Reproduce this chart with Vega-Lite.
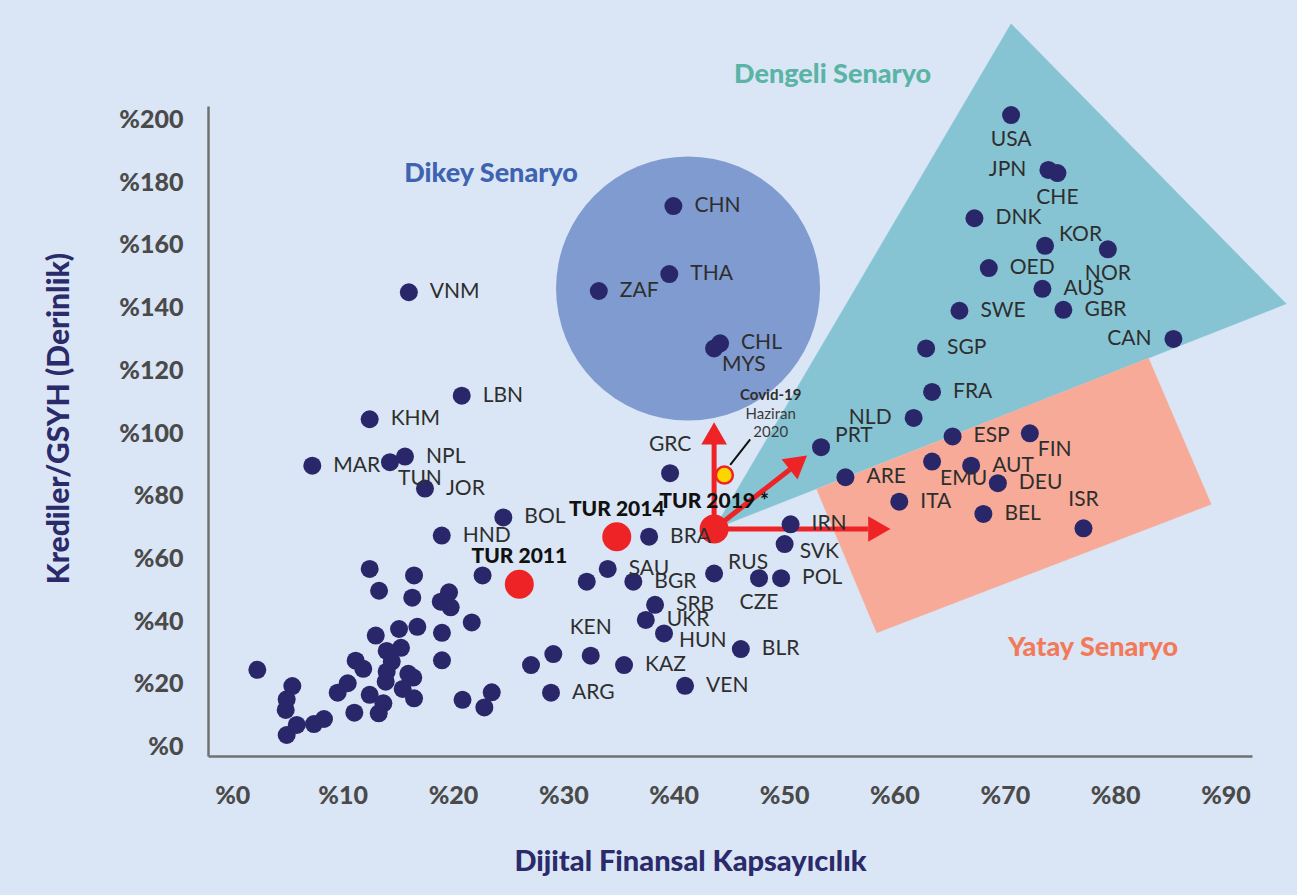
{
  "$schema": "https://vega.github.io/schema/vega-lite/v6.json",
  "width": 1044,
  "height": 650,
  "autosize": {"type": "none"},
  "padding": {"left": 208, "top": 106, "right": 45, "bottom": 139},
  "background": "#dae6f5",
  "config": {"view": {"stroke": null}, "font": "Lato"},
  "datasets": {
    "shapes": [
      {"shape": "tri", "ord": 1, "x": 43.66, "y": 69.4},
      {"shape": "tri", "ord": 2, "x": 70.57, "y": 230.5},
      {"shape": "tri", "ord": 3, "x": 95.5, "y": 141.2},
      {"shape": "rect", "ord": 1, "x": 52.96, "y": 82.07},
      {"shape": "rect", "ord": 2, "x": 83.02, "y": 123.86},
      {"shape": "rect", "ord": 3, "x": 88.7, "y": 77.29},
      {"shape": "rect", "ord": 4, "x": 58.4, "y": 36.33}
    ],
    "circle": [{"x": 41.3, "y": 146.1}],
    "arrows": [
      {"x": 43.66, "y": 69.4, "x2": 43.66, "y2": 96.5},
      {"x": 43.66, "y": 69.4, "x2": 57.6, "y2": 69.4},
      {"x": 43.66, "y": 69.4, "x2": 50.53, "y2": 88.4}
    ],
    "heads": [
      {"x": 43.66, "y": 99.9, "angle": 0},
      {"x": 58.63, "y": 69.4, "angle": 90},
      {"x": 51.29, "y": 90.62, "angle": 51.7}
    ],
    "leader": [{"x": 45.12, "y": 89.86, "x2": 46.93, "y2": 98.0}],
    "covid": [{"x": 44.59, "y": 86.6}],
    "covidText": [
      {"text": "Covid-19", "x": 48.79, "y": 112.2},
      {"text": "Haziran", "x": 48.79, "y": 106.1},
      {"text": "2020", "x": 48.79, "y": 100.4}
    ],
    "tur": [
      {"name": "TUR 2011", "x": 26.01, "y": 51.8},
      {"name": "TUR 2014", "x": 34.84, "y": 66.9},
      {"name": "TUR 2019 *", "x": 43.66, "y": 69.4}
    ],
    "scen": [
      {"text": "Dengeli Senaryo", "x": 54.4, "y": 214.3, "kind": "Dengeli"},
      {"text": "Dikey Senaryo", "x": 23.45, "y": 182.6, "kind": "Dikey"},
      {"text": "Yatay Senaryo", "x": 77.99, "y": 31.45, "kind": "Yatay"}
    ],
    "countries": [
      {"name": "VNM", "x": 16.0, "y": 144.9, "pos": "r"},
      {"name": "LBN", "x": 20.79, "y": 111.9, "pos": "r"},
      {"name": "KHM", "x": 12.45, "y": 104.4, "pos": "r"},
      {"name": "MAR", "x": 7.25, "y": 89.6, "pos": "r"},
      {"name": "TUN", "x": 14.29, "y": 90.7, "pos": "br"},
      {"name": "NPL", "x": 15.65, "y": 92.5, "pos": "r"},
      {"name": "JOR", "x": 17.46, "y": 82.3, "pos": "r"},
      {"name": "BOL", "x": 24.56, "y": 73.1, "pos": "r"},
      {"name": "HND", "x": 18.98, "y": 67.3, "pos": "r"},
      {"name": "GRC", "x": 39.67, "y": 87.2, "pos": "a"},
      {"name": "BRA", "x": 37.77, "y": 66.95, "pos": "r"},
      {"name": "SAU", "x": 34.02, "y": 56.65, "pos": "r"},
      {"name": "BGR", "x": 36.34, "y": 52.6, "pos": "r"},
      {"name": "RUS", "x": 43.66, "y": 55.2, "pos": "ar"},
      {"name": "CZE", "x": 47.73, "y": 53.7, "pos": "b"},
      {"name": "POL", "x": 49.73, "y": 53.7, "pos": "r"},
      {"name": "SRB", "x": 38.31, "y": 45.2, "pos": "r"},
      {"name": "UKR", "x": 37.47, "y": 40.4, "pos": "r"},
      {"name": "HUN", "x": 39.12, "y": 36.1, "pos": "rb"},
      {"name": "KEN", "x": 32.48, "y": 29.0, "pos": "a"},
      {"name": "KAZ", "x": 35.5, "y": 26.0, "pos": "r"},
      {"name": "ARG", "x": 28.88, "y": 17.2, "pos": "r"},
      {"name": "VEN", "x": 41.03, "y": 19.4, "pos": "r"},
      {"name": "BLR", "x": 46.08, "y": 31.1, "pos": "r"},
      {"name": "IRN", "x": 50.59, "y": 70.9, "pos": "r"},
      {"name": "SVK", "x": 50.05, "y": 64.6, "pos": "rb"},
      {"name": "CHN", "x": 39.97, "y": 172.4, "pos": "r"},
      {"name": "THA", "x": 39.6, "y": 150.7, "pos": "r"},
      {"name": "ZAF", "x": 33.21, "y": 145.3, "pos": "r"},
      {"name": "CHL", "x": 44.2, "y": 128.6, "pos": "r"},
      {"name": "MYS", "x": 43.66, "y": 127.0, "pos": "br"},
      {"name": "USA", "x": 70.57, "y": 201.4, "pos": "b"},
      {"name": "JPN", "x": 73.95, "y": 183.9, "pos": "l"},
      {"name": "CHE", "x": 74.77, "y": 182.9, "pos": "b"},
      {"name": "DNK", "x": 67.25, "y": 168.5, "pos": "r"},
      {"name": "KOR", "x": 73.65, "y": 159.7, "pos": "ar"},
      {"name": "NOR", "x": 79.34, "y": 158.6, "pos": "b"},
      {"name": "OED", "x": 68.55, "y": 152.6, "pos": "r"},
      {"name": "AUS", "x": 73.41, "y": 146.0, "pos": "r"},
      {"name": "SWE", "x": 65.89, "y": 139.0, "pos": "r"},
      {"name": "GBR", "x": 75.31, "y": 139.3, "pos": "r"},
      {"name": "CAN", "x": 85.28, "y": 130.0, "pos": "l"},
      {"name": "SGP", "x": 62.87, "y": 127.0, "pos": "r"},
      {"name": "FRA", "x": 63.41, "y": 113.1, "pos": "r"},
      {"name": "NLD", "x": 61.74, "y": 104.8, "pos": "l"},
      {"name": "PRT", "x": 53.35, "y": 95.5, "pos": "ar"},
      {"name": "ESP", "x": 65.27, "y": 98.9, "pos": "r"},
      {"name": "FIN", "x": 72.27, "y": 99.9, "pos": "br"},
      {"name": "EMU", "x": 63.41, "y": 90.9, "pos": "br"},
      {"name": "AUT", "x": 66.95, "y": 89.6, "pos": "r"},
      {"name": "DEU", "x": 69.37, "y": 84.0, "pos": "r"},
      {"name": "ARE", "x": 55.56, "y": 85.9, "pos": "r"},
      {"name": "ITA", "x": 60.44, "y": 78.1, "pos": "r"},
      {"name": "BEL", "x": 68.06, "y": 74.2, "pos": "r"},
      {"name": "ISR", "x": 77.13, "y": 69.6, "pos": "a"},
      {"name": "", "x": 29.09, "y": 29.5, "pos": "n"},
      {"name": "", "x": 27.07, "y": 26.0, "pos": "n"},
      {"name": "", "x": 32.12, "y": 52.6, "pos": "n"},
      {"name": "", "x": 12.45, "y": 56.65, "pos": "n"},
      {"name": "", "x": 16.47, "y": 54.6, "pos": "n"},
      {"name": "", "x": 22.68, "y": 54.6, "pos": "n"},
      {"name": "", "x": 13.3, "y": 49.7, "pos": "n"},
      {"name": "", "x": 16.31, "y": 47.5, "pos": "n"},
      {"name": "", "x": 19.64, "y": 49.2, "pos": "n"},
      {"name": "", "x": 18.89, "y": 46.2, "pos": "n"},
      {"name": "", "x": 19.79, "y": 44.4, "pos": "n"},
      {"name": "", "x": 21.7, "y": 39.6, "pos": "n"},
      {"name": "", "x": 15.11, "y": 37.5, "pos": "n"},
      {"name": "", "x": 16.77, "y": 38.2, "pos": "n"},
      {"name": "", "x": 13.0, "y": 35.4, "pos": "n"},
      {"name": "", "x": 19.0, "y": 36.3, "pos": "n"},
      {"name": "", "x": 13.99, "y": 30.5, "pos": "n"},
      {"name": "", "x": 15.29, "y": 31.5, "pos": "n"},
      {"name": "", "x": 14.45, "y": 27.1, "pos": "n"},
      {"name": "", "x": 11.18, "y": 27.4, "pos": "n"},
      {"name": "", "x": 11.87, "y": 24.8, "pos": "n"},
      {"name": "", "x": 19.0, "y": 27.5, "pos": "n"},
      {"name": "", "x": 2.27, "y": 24.5, "pos": "n"},
      {"name": "", "x": 13.99, "y": 23.9, "pos": "n"},
      {"name": "", "x": 13.9, "y": 20.7, "pos": "n"},
      {"name": "", "x": 15.95, "y": 23.2, "pos": "n"},
      {"name": "", "x": 16.4, "y": 22.0, "pos": "n"},
      {"name": "", "x": 15.44, "y": 18.4, "pos": "n"},
      {"name": "", "x": 16.47, "y": 15.4, "pos": "n"},
      {"name": "", "x": 10.46, "y": 20.2, "pos": "n"},
      {"name": "", "x": 9.55, "y": 17.2, "pos": "n"},
      {"name": "", "x": 12.45, "y": 16.5, "pos": "n"},
      {"name": "", "x": 13.69, "y": 13.8, "pos": "n"},
      {"name": "", "x": 13.27, "y": 10.6, "pos": "n"},
      {"name": "", "x": 11.06, "y": 10.8, "pos": "n"},
      {"name": "", "x": 5.44, "y": 19.3, "pos": "n"},
      {"name": "", "x": 4.93, "y": 15.1, "pos": "n"},
      {"name": "", "x": 4.84, "y": 11.7, "pos": "n"},
      {"name": "", "x": 5.84, "y": 6.9, "pos": "n"},
      {"name": "", "x": 4.93, "y": 3.7, "pos": "n"},
      {"name": "", "x": 7.4, "y": 7.2, "pos": "n"},
      {"name": "", "x": 8.31, "y": 8.8, "pos": "n"},
      {"name": "", "x": 20.86, "y": 14.9, "pos": "n"},
      {"name": "", "x": 23.51, "y": 17.3, "pos": "n"},
      {"name": "", "x": 22.84, "y": 12.5, "pos": "n"}
    ]
  },
  "layer": [
    {
      "data": {"name": "shapes"},
      "transform": [{"filter": "datum.shape == 'tri'"}],
      "mark": {"type": "line", "interpolate": "linear-closed", "fill": "#86c4d4", "stroke": "#86c4d4", "strokeWidth": 0.5},
      "encoding": {
        "x": {
          "field": "x", "type": "quantitative",
          "scale": {"domain": [-2.2, 92.4], "nice": false, "zero": false},
          "axis": {
            "values": [0, 10, 20, 30, 40, 50, 60, 70, 80, 90],
            "labelExpr": "'%' + datum.value",
            "title": "Dijital Finansal Kapsayıcılık",
            "grid": false, "ticks": false,
            "domainColor": "#707070", "domainWidth": 2.5,
            "labelFont": "Lato", "labelFontSize": 25, "labelFontWeight": 900, "labelColor": "#4a4a4a",
            "labelPadding": 27,
            "titleFont": "Lato", "titleFontSize": 29, "titleFontWeight": 900, "titleColor": "#2b2a6b",
            "titleX": 482, "titleY": 114, "titleAlign": "center", "titleBaseline": "alphabetic"
          }
        },
        "y": {
          "field": "y", "type": "quantitative",
          "scale": {"domain": [-3.0, 204.3], "nice": false, "zero": false},
          "axis": {
            "values": [0, 20, 40, 60, 80, 100, 120, 140, 160, 180, 200],
            "labelExpr": "'%' + datum.value",
            "title": "Krediler/GSYH (Derinlik)",
            "grid": false, "ticks": false,
            "domainColor": "#707070", "domainWidth": 2.5,
            "labelFont": "Lato", "labelFontSize": 25, "labelFontWeight": 900, "labelColor": "#4a4a4a",
            "labelPadding": 25,
            "titleFont": "Lato", "titleFontSize": 30, "titleFontWeight": 900, "titleColor": "#2b2a6b",
            "titleX": -140, "titleY": 312, "titleAlign": "center", "titleBaseline": "alphabetic", "titleAngle": 270
          }
        },
        "order": {"field": "ord", "type": "quantitative"}
      }
    },
    {
      "data": {"name": "shapes"},
      "transform": [{"filter": "datum.shape == 'rect'"}],
      "mark": {"type": "line", "interpolate": "linear-closed", "fill": "#f7aa97", "stroke": "#f7aa97", "strokeWidth": 0.5},
      "encoding": {
        "x": {"field": "x", "type": "quantitative"},
        "y": {"field": "y", "type": "quantitative"},
        "order": {"field": "ord", "type": "quantitative"}
      }
    },
    {
      "data": {"name": "circle"},
      "mark": {"type": "point", "shape": "circle", "filled": true, "size": 69696, "color": "#7f9bd0", "opacity": 1},
      "encoding": {
        "x": {"field": "x", "type": "quantitative"},
        "y": {"field": "y", "type": "quantitative"}
      }
    },
    {
      "data": {"name": "arrows"},
      "mark": {"type": "rule", "color": "#ee2326", "strokeWidth": 5},
      "encoding": {
        "x": {"field": "x", "type": "quantitative"},
        "y": {"field": "y", "type": "quantitative"},
        "x2": {"field": "x2"},
        "y2": {"field": "y2"}
      }
    },
    {
      "data": {"name": "heads"},
      "mark": {"type": "point", "shape": "triangle-up", "filled": true, "size": 660, "color": "#ee2326", "opacity": 1},
      "encoding": {
        "x": {"field": "x", "type": "quantitative"},
        "y": {"field": "y", "type": "quantitative"},
        "angle": {"field": "angle", "type": "quantitative", "scale": null}
      }
    },
    {
      "data": {"name": "leader"},
      "mark": {"type": "rule", "color": "#111111", "strokeWidth": 2},
      "encoding": {
        "x": {"field": "x", "type": "quantitative"},
        "y": {"field": "y", "type": "quantitative"},
        "x2": {"field": "x2"},
        "y2": {"field": "y2"}
      }
    },
    {
      "data": {"name": "countries"},
      "mark": {"type": "point", "shape": "circle", "filled": true, "size": 324, "color": "#29276a", "opacity": 1},
      "encoding": {
        "x": {"field": "x", "type": "quantitative"},
        "y": {"field": "y", "type": "quantitative"}
      }
    },
    {
      "data": {"name": "tur"},
      "mark": {"type": "point", "shape": "circle", "filled": true, "size": 841, "color": "#ee2326", "opacity": 1},
      "encoding": {
        "x": {"field": "x", "type": "quantitative"},
        "y": {"field": "y", "type": "quantitative"}
      }
    },
    {
      "data": {"name": "covid"},
      "mark": {"type": "point", "shape": "circle", "filled": true, "size": 290, "fill": "#ffd500", "stroke": "#ee2326", "strokeWidth": 2.5, "opacity": 1},
      "encoding": {
        "x": {"field": "x", "type": "quantitative"},
        "y": {"field": "y", "type": "quantitative"}
      }
    },
    {
      "data": {"name": "countries"},
      "transform": [{"filter": "datum.pos == 'r'"}],
      "mark": {"type": "text", "font": "Lato", "fontSize": 21, "color": "#2e2e2e", "align": "left", "baseline": "middle", "dx": 21},
      "encoding": {
        "x": {"field": "x", "type": "quantitative"},
        "y": {"field": "y", "type": "quantitative"},
        "text": {"field": "name"}
      }
    },
    {
      "data": {"name": "countries"},
      "transform": [{"filter": "datum.pos == 'rb'"}],
      "mark": {"type": "text", "font": "Lato", "fontSize": 21, "color": "#2e2e2e", "align": "left", "baseline": "middle", "dx": 15, "dy": 8},
      "encoding": {
        "x": {"field": "x", "type": "quantitative"},
        "y": {"field": "y", "type": "quantitative"},
        "text": {"field": "name"}
      }
    },
    {
      "data": {"name": "countries"},
      "transform": [{"filter": "datum.pos == 'l'"}],
      "mark": {"type": "text", "font": "Lato", "fontSize": 21, "color": "#2e2e2e", "align": "right", "baseline": "middle", "dx": -22},
      "encoding": {
        "x": {"field": "x", "type": "quantitative"},
        "y": {"field": "y", "type": "quantitative"},
        "text": {"field": "name"}
      }
    },
    {
      "data": {"name": "countries"},
      "transform": [{"filter": "datum.pos == 'a'"}],
      "mark": {"type": "text", "font": "Lato", "fontSize": 21, "color": "#2e2e2e", "align": "center", "baseline": "middle", "dy": -28},
      "encoding": {
        "x": {"field": "x", "type": "quantitative"},
        "y": {"field": "y", "type": "quantitative"},
        "text": {"field": "name"}
      }
    },
    {
      "data": {"name": "countries"},
      "transform": [{"filter": "datum.pos == 'b'"}],
      "mark": {"type": "text", "font": "Lato", "fontSize": 21, "color": "#2e2e2e", "align": "center", "baseline": "middle", "dy": 25},
      "encoding": {
        "x": {"field": "x", "type": "quantitative"},
        "y": {"field": "y", "type": "quantitative"},
        "text": {"field": "name"}
      }
    },
    {
      "data": {"name": "countries"},
      "transform": [{"filter": "datum.pos == 'ar'"}],
      "mark": {"type": "text", "font": "Lato", "fontSize": 21, "color": "#2e2e2e", "align": "left", "baseline": "middle", "dx": 14, "dy": -11},
      "encoding": {
        "x": {"field": "x", "type": "quantitative"},
        "y": {"field": "y", "type": "quantitative"},
        "text": {"field": "name"}
      }
    },
    {
      "data": {"name": "countries"},
      "transform": [{"filter": "datum.pos == 'br'"}],
      "mark": {"type": "text", "font": "Lato", "fontSize": 21, "color": "#2e2e2e", "align": "left", "baseline": "middle", "dx": 8, "dy": 17},
      "encoding": {
        "x": {"field": "x", "type": "quantitative"},
        "y": {"field": "y", "type": "quantitative"},
        "text": {"field": "name"}
      }
    },
    {
      "data": {"name": "tur"},
      "mark": {"type": "text", "font": "Lato", "fontSize": 21, "fontWeight": 900, "color": "#111111", "align": "center", "baseline": "middle", "dy": -27},
      "encoding": {
        "x": {"field": "x", "type": "quantitative"},
        "y": {"field": "y", "type": "quantitative"},
        "text": {"field": "name"}
      }
    },
    {
      "data": {"name": "covidText"},
      "transform": [{"filter": "datum.text == 'Covid-19'"}],
      "mark": {"type": "text", "font": "Lato", "fontSize": 15, "fontWeight": "bold", "color": "#2e2e2e", "align": "center", "baseline": "middle"},
      "encoding": {
        "x": {"field": "x", "type": "quantitative"},
        "y": {"field": "y", "type": "quantitative"},
        "text": {"field": "text"}
      }
    },
    {
      "data": {"name": "covidText"},
      "transform": [{"filter": "datum.text != 'Covid-19'"}],
      "mark": {"type": "text", "font": "Lato", "fontSize": 15, "color": "#3a3a3a", "align": "center", "baseline": "middle"},
      "encoding": {
        "x": {"field": "x", "type": "quantitative"},
        "y": {"field": "y", "type": "quantitative"},
        "text": {"field": "text"}
      }
    },
    {
      "data": {"name": "scen"},
      "mark": {"type": "text", "font": "Lato", "fontSize": 27, "fontWeight": 900, "align": "center", "baseline": "middle"},
      "encoding": {
        "x": {"field": "x", "type": "quantitative"},
        "y": {"field": "y", "type": "quantitative"},
        "text": {"field": "text"},
        "color": {
          "field": "kind", "type": "nominal",
          "scale": {"domain": ["Dengeli", "Dikey", "Yatay"], "range": ["#5ab4a6", "#3e63b0", "#f27a5a"]},
          "legend": null
        }
      }
    }
  ]
}
